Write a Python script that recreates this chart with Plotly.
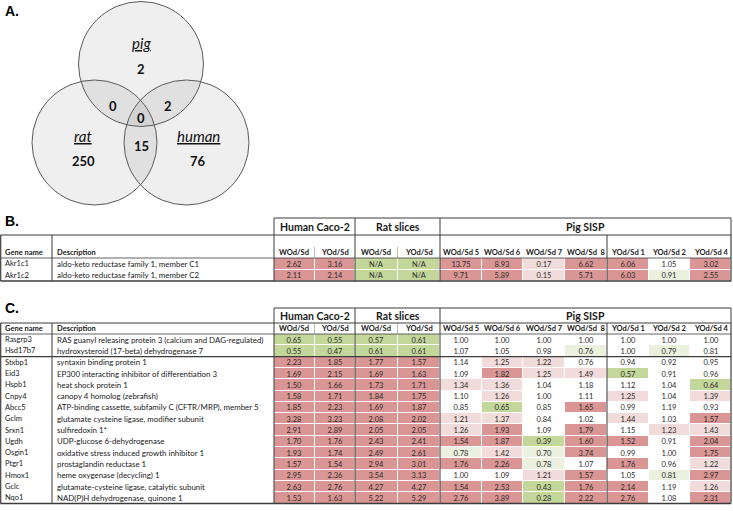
import plotly.graph_objects as go

# ---------------- data ----------------
# Venn counts
venn_sets = ["pig", "rat", "human"]
venn_only = [2, 250, 76]            # pig, rat, human only
venn_pig_rat = 0
venn_pig_human = 2
venn_rat_human = 15
venn_all = 0

group_labels = ["Human Caco-2", "Rat slices", "Pig SISP"]
col_labels = ["WOd/Sd", "YOd/Sd", "WOd/Sd", "YOd/Sd", "WOd/Sd 5", "WOd/Sd 6",
              "WOd/Sd 7", "WOd/Sd  8", "YOd/Sd 1", "YOd/Sd 2", "YOd/Sd 4"]

# Table B
genes_B = ["Akr1c1", "Akr1c2"]
desc_B = ["aldo-keto reductase family 1, member C1",
          "aldo-keto reductase family 1, member C2"]
human_W_B = [2.62, 2.11]
human_Y_B = [3.16, 2.14]
rat_W_B = [None, None]
rat_Y_B = [None, None]
pig_W5_B = [13.75, 9.71]
pig_W6_B = [8.93, 5.89]
pig_W7_B = [0.17, 0.15]
pig_W8_B = [6.62, 5.71]
pig_Y1_B = [6.06, 6.03]
pig_Y2_B = [1.05, 0.91]
pig_Y4_B = [3.02, 2.55]

# Table C
genes_C = ["Rasgrp3", "Hsd17b7", "Stxbp1", "Eid3", "Hspb1", "Cnpy4", "Abcc5", "Gclm",
           "Srxn1", "Ugdh", "Osgin1", "Ptgr1", "Hmox1", "Gclc", "Nqo1"]
desc_C = ["RAS guanyl releasing protein 3 (calcium and DAG-regulated)",
          "hydroxysteroid (17-beta) dehydrogenase 7",
          "syntaxin binding protein 1",
          "EP300 interacting inhibitor of differentiation 3",
          "heat shock protein 1",
          "canopy 4 homolog (zebrafish)",
          "ATP-binding cassette, subfamily C (CFTR/MRP), member 5",
          "glutamate cysteine ligase, modifier subunit",
          "sulfiredoxin 1*",
          "UDP-glucose 6-dehydrogenase",
          "oxidative stress induced growth inhibitor 1",
          "prostaglandin reductase 1",
          "heme oxygenase (decycling) 1",
          "glutamate-cysteine ligase, catalytic subunit",
          "NAD(P)H dehydrogenase, quinone 1"]
human_W_C = [0.65, 0.55, 2.23, 1.69, 1.50, 1.58, 1.85, 3.28, 2.91, 1.70, 1.93, 1.57, 2.95, 2.63, 1.53]
human_Y_C = [0.55, 0.47, 1.85, 2.15, 1.66, 1.71, 2.23, 3.23, 2.89, 1.76, 1.74, 1.54, 2.36, 2.76, 1.63]
rat_W_C = [0.57, 0.61, 1.77, 1.69, 1.73, 1.84, 1.69, 2.08, 2.05, 2.43, 2.49, 2.94, 3.54, 4.27, 5.22]
rat_Y_C = [0.61, 0.61, 1.57, 1.63, 1.71, 1.75, 1.87, 2.02, 2.05, 2.41, 2.61, 3.01, 3.13, 4.27, 5.29]
pig_W5_C = [1.00, 1.07, 1.14, 1.09, 1.34, 1.10, 0.85, 1.21, 1.26, 1.54, 0.78, 1.76, 1.00, 1.54, 2.76]
pig_W6_C = [1.00, 1.05, 1.25, 1.82, 1.36, 1.26, 0.65, 1.37, 1.93, 1.87, 1.42, 2.26, 1.09, 2.53, 3.89]
pig_W7_C = [1.00, 0.98, 1.22, 1.25, 1.04, 1.00, 0.85, 0.84, 1.09, 0.39, 0.70, 0.78, 1.21, 0.43, 0.28]
pig_W8_C = [1.00, 0.76, 0.76, 1.49, 1.18, 1.11, 1.65, 1.02, 1.79, 1.60, 3.74, 1.07, 1.57, 1.76, 2.22]
pig_Y1_C = [1.00, 1.00, 0.94, 0.57, 1.12, 1.25, 0.99, 1.44, 1.15, 1.52, 0.99, 1.76, 1.05, 2.14, 2.76]
pig_Y2_C = [1.00, 0.79, 0.92, 0.91, 1.04, 1.04, 1.19, 1.03, 1.23, 0.91, 1.00, 0.96, 0.81, 1.19, 1.08]
pig_Y4_C = [1.00, 0.81, 0.95, 0.96, 0.64, 1.39, 0.93, 1.57, 1.43, 2.04, 1.75, 1.22, 2.97, 1.26, 2.31]

# ---------------- styling ----------------
WHITE, RED, PINK, GREEN, LGREEN = "#ffffff", "#da9694", "#f2dcdb", "#c4d79b", "#ebf1de"
LINE = "#3c3c3c"
FONT = "Lato"


def cls(v):
    if v is None:
        return 3
    if v >= 1.5:
        return 1
    if v >= 1.2:
        return 2
    if v < 0.7:
        return 3
    if v < 0.8:
        return 4
    return 0


# cells whose shading in the original differs from the plain threshold rule
overrides_B = {(0, 6): 2, (1, 6): 2, (1, 9): 4}
overrides_C = {(2, 7): 0, (12, 9): 4}

colorscale = [[0, WHITE], [0.125, WHITE], [0.125, RED], [0.375, RED],
              [0.375, PINK], [0.625, PINK], [0.625, GREEN], [0.875, GREEN],
              [0.875, LGREEN], [1, LGREEN]]

col_edges = [274, 314.5, 355, 397.5, 440, 481.5, 523, 565, 607, 648.5, 690, 731]
group_edges = [274, 355, 440, 731]


def matrix(cols, overrides):
    n = len(cols[0])
    z, t = [], []
    for i in range(n):
        zr, tr = [], []
        for j, c in enumerate(cols):
            v = c[i]
            zr.append(overrides.get((i, j), cls(v)))
            tr.append("N/A" if v is None else f"{v:.2f}")
        z.append(zr)
        t.append(tr)
    return z, t


cols_B = [human_W_B, human_Y_B, rat_W_B, rat_Y_B, pig_W5_B, pig_W6_B, pig_W7_B,
          pig_W8_B, pig_Y1_B, pig_Y2_B, pig_Y4_B]
cols_C = [human_W_C, human_Y_C, rat_W_C, rat_Y_C, pig_W5_C, pig_W6_C, pig_W7_C,
          pig_W8_C, pig_Y1_C, pig_Y2_C, pig_Y4_C]
zB, tB = matrix(cols_B, overrides_B)
zC, tC = matrix(cols_C, overrides_C)

# table geometry (pixels)
B_h1, B_h2, B_r0, B_rh = 218, 235, 258, 11.5
C_h1, C_h2, C_r0, C_rh = 308, 323, 334, 11.3
rows_B = [B_r0 + i * B_rh for i in range(len(genes_B) + 1)]
rows_C = [C_r0 + i * C_rh for i in range(len(genes_C) + 1)]

fig = go.Figure()
for z, t, ye in [(zB, tB, rows_B), (zC, tC, rows_C)]:
    fig.add_trace(go.Heatmap(
        x=col_edges, y=ye, z=z, text=t, texttemplate="%{text}",
        textfont=dict(family=FONT, size=7.5, color="#2a2a2a"),
        colorscale=colorscale, zmin=0, zmax=4, showscale=False,
        xgap=1, ygap=1, hoverinfo="skip"))

shapes = []
ann = []


def line(x0, y0, x1, y1, w=1.0, c=LINE):
    shapes.append(dict(type="line", x0=x0, y0=y0, x1=x1, y1=y1, xref="x", yref="y",
                       line=dict(color=c, width=w)))


def text(x, y, s, size=7.5, bold=False, anchor="center", family=FONT, color="#1a1a1a"):
    ann.append(dict(x=x, y=y, xref="x", yref="y", text=f"<b>{s}</b>" if bold else s,
                    showarrow=False, xanchor=anchor, yanchor="middle",
                    font=dict(family=family, size=size, color=color)))


def table(h1, h2, r0, rows, genes, descs, tall):
    bottom = rows[-1]
    # header group box
    line(274, h1, 731, h1, 1.2)
    for gx in group_edges:
        line(gx, h1, gx, h2)
    for g, (a, b) in zip(group_labels, zip(group_edges[:-1], group_edges[1:])):
        text((a + b) / 2, (h1 + h2) / 2 + 0.5, g, size=10.5, bold=True)
    # main box
    line(0.5, h2, 731, h2, 1.2)
    line(0.5, bottom, 731, bottom, 1.5)
    for vx in [0.7, 52, 274, 355, 440, 607, 731]:
        line(vx, h2, vx, bottom, 1.2 if vx in (0.7, 731) else 1.0)
    line(0.5, r0, 731, r0, 0.8)
    sep_top = r0 - 11 if tall else h2
    for vx in [314.5, 397.5]:
        line(vx, sep_top, vx, r0, 0.6, "#888888")
    ly = r0 - 5.5
    text(3, ly, "Gene name", bold=True, anchor="left")
    text(55, ly, "Description", bold=True, anchor="left")
    for lab, a, b in zip(col_labels, col_edges[:-1], col_edges[1:]):
        text((a + b) / 2, ly, lab, bold=True)
    for i, (g, d) in enumerate(zip(genes, descs)):
        cy = (rows[i] + rows[i + 1]) / 2
        text(3, cy, g, anchor="left")
        text(55, cy, d, size=7.9, anchor="left")


table(B_h1, B_h2, B_r0, rows_B, genes_B, descs=desc_B, tall=True)
table(C_h1, C_h2, C_r0, rows_C, genes_C, descs=desc_C, tall=False)
line(0.5, rows_C[2], 731, rows_C[2], 1.2)

# ---------------- Venn ----------------
R = 62.5
centers = {"pig": (141, 64), "rat": (94.5, 142.5), "human": (186.5, 142.5)}
for name in venn_sets:
    cx, cy = centers[name]
    shapes.append(dict(type="circle", xref="x", yref="y", x0=cx - R, y0=cy - R,
                       x1=cx + R, y1=cy + R, fillcolor="rgba(110,110,110,0.11)",
                       line=dict(color="#5a5a5a", width=1)))
label_pos = {"pig": (141, 43), "rat": (83, 136), "human": (198, 136)}
count_pos = {"pig": (141, 69), "rat": (83, 161), "human": (198, 161)}
for name, cnt in zip(venn_sets, venn_only):
    lx, ly2 = label_pos[name]
    text(lx, ly2, f"<u><i>{name}</i></u>", size=15, color="#111111")
    cx2, cy2 = count_pos[name]
    text(cx2, cy2, str(cnt), size=13, bold=True, color="#111111")
text(113, 106, str(venn_pig_rat), size=13, bold=True, color="#111111")
text(168, 106, str(venn_pig_human), size=13, bold=True, color="#111111")
text(141, 118, str(venn_all), size=13, bold=True, color="#111111")
text(141, 146, str(venn_rat_human), size=13, bold=True, color="#111111")

# panel labels
for lab, y in [("A.", 11), ("B.", 221), ("C.", 308)]:
    text(3, y, lab, size=14, bold=True, anchor="left", family="Liberation Sans", color="#000000")

fig.update_layout(
    width=733, height=511, autosize=False,
    margin=dict(l=0, r=0, t=0, b=0),
    paper_bgcolor="white", plot_bgcolor="white",
    xaxis=dict(range=[0, 733], visible=False, fixedrange=True),
    yaxis=dict(range=[511, 0], visible=False, fixedrange=True),
    shapes=shapes, annotations=ann, showlegend=False,
)
fig.write_html("out.html", config={"displayModeBar": False},
               post_script="document.body.style.margin='0';document.body.style.overflow='hidden';")
